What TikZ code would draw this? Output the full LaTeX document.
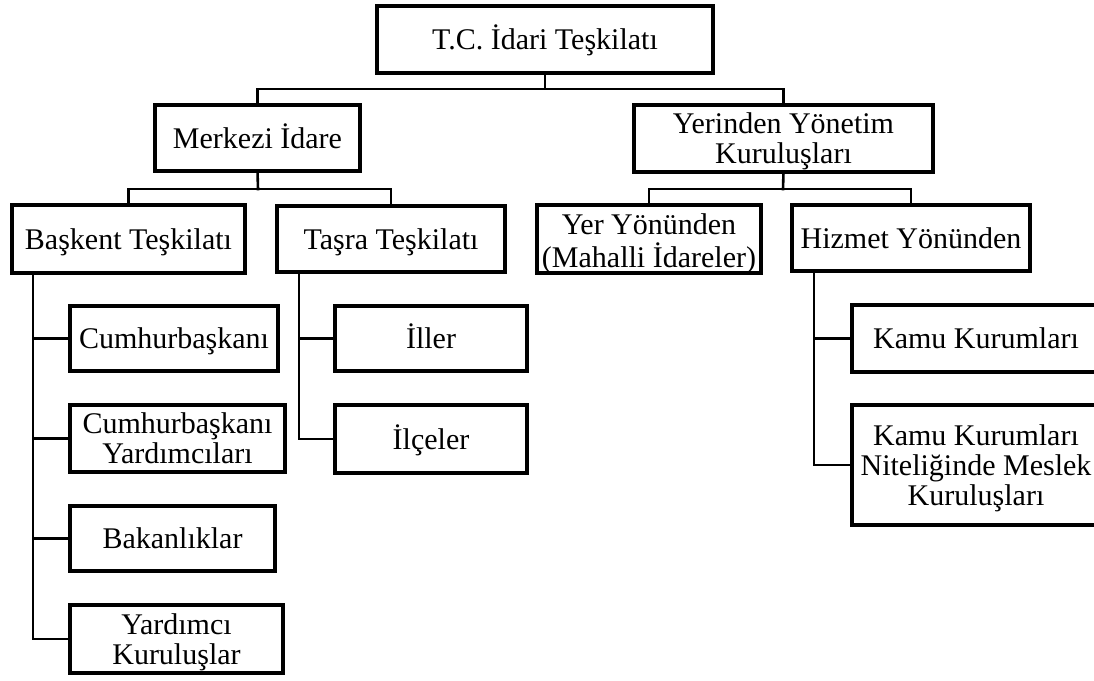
\documentclass[tikz,border=0pt]{standalone}
\usepackage{fontspec}
\setmainfont{Liberation Serif}
\begin{document}
\begin{tikzpicture}[x=1pt,y=-1pt,
  box/.style={draw=black,line width=3.8pt,fill=white,inner sep=0pt,outer sep=0pt},
  lbl/.style={anchor=base,inner sep=0pt,font=\fontsize{30}{30}\selectfont},
  conn/.style={draw=black,line width=2.6pt,line cap=rect}]
\useasboundingbox (0,0) rectangle (1094,680);
\clip (0,0) rectangle (1094,680);
% #1 name, #2 left, #3 top, #4 right, #5 bottom, #6 number of lines, #7 text
\newcommand\bx[7]{%
  \node[box,minimum width={#4-#2},minimum height={#5-#3}] (#1) at ({(#2+#4)/2},{(#3+#5)/2}) {};
  \node[lbl] (#1-t) at ({(#2+#4)/2},{(#3+#5)/2+10-(#6-1)*15}) {\begin{tabular}[t]{@{}c@{}}#7\end{tabular}};}
% junction points
\coordinate (j1) at (545,89);
\coordinate (j2) at (258,189);
\coordinate (j3) at (783,189);
\coordinate (bx0) at (33,273);
\coordinate (tx0) at (299,272);
\coordinate (hx0) at (814,271);
% boxes
\bx{tc}{377}{6}{713}{73}{1}{T.C. İdari Teşkilatı}
\bx{mer}{155}{105}{360}{171}{1}{Merkezi İdare}
\bx{yer}{634}{105}{933}{172}{2}{Yerinden Yönetim\\Kuruluşları}
\bx{bas}{12}{205}{245}{273}{1}{Başkent Teşkilatı}
\bx{tas}{277}{206}{505}{272}{1}{Taşra Teşkilatı}
\bx{yery}{537}{205}{761}{273}{2}{Yer Yönünden\\(Mahalli İdareler)}
\bx{hiz}{792}{205}{1030}{271}{1}{Hizmet Yönünden}
\bx{cb}{70}{306}{278}{371}{1}{Cumhurbaşkanı}
\bx{cby}{70}{405}{285}{472}{2}{Cumhurbaşkanı\\Yardımcıları}
\bx{bak}{70}{506}{275}{571}{1}{Bakanlıklar}
\bx{yk}{70}{605}{283}{673}{2}{Yardımcı\\Kuruluşlar}
\bx{il}{335}{306}{527}{371}{1}{İller}
\bx{ilc}{335}{405}{527}{473}{1}{İlçeler}
\bx{kk}{852}{305}{1100}{372}{1}{Kamu Kurumları}
\bx{kkn}{852}{405}{1100}{525}{3}{Kamu Kurumları\\Niteliğinde Meslek\\Kuruluşları}
% level connectors
\draw[conn] (tc.south) -- (j1);
\draw[conn] (mer.north) |- (j1) -| (yer.north);
\draw[conn] (mer.south) -- (j2);
\draw[conn] (bas.north) |- (j2) -| (tas.north);
\draw[conn] (yer.south) -- (j3);
\draw[conn] (yery.north) |- (j3) -| (hiz.north);
% Başkent branch
\draw[conn] (bx0) |- (yk.west);
\draw[conn] (cb.west) -- (cb.west -| bx0);
\draw[conn] (cby.west) -- (cby.west -| bx0);
\draw[conn] (bak.west) -- (bak.west -| bx0);
% Taşra branch
\draw[conn] (tx0) |- (ilc.west);
\draw[conn] (il.west) -- (il.west -| tx0);
% Hizmet branch
\draw[conn] (hx0) |- (kkn.west);
\draw[conn] (kk.west) -- (kk.west -| hx0);
\end{tikzpicture}
\end{document}
